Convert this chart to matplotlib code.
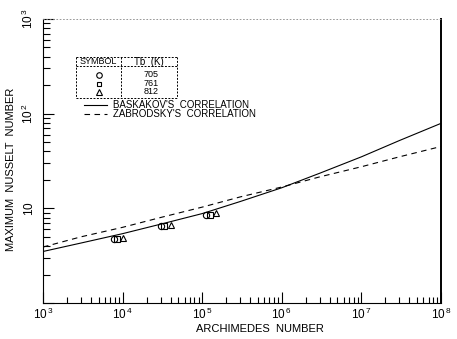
import matplotlib
matplotlib.use("Agg")
import matplotlib.pyplot as plt
from matplotlib.ticker import LogLocator, NullFormatter, FixedLocator, FixedFormatter
from matplotlib.lines import Line2D

plt.rcParams['font.family'] = ['Liberation Sans', 'DejaVu Sans']
plt.rcParams['mathtext.fontset'] = 'custom'
plt.rcParams['mathtext.rm'] = 'Liberation Sans'

# Correlation curves (Archimedes number vs maximum Nusselt number)
ar_curve = [1e3, 3e3, 1e4, 3e4, 1e5, 3e5, 1e6, 3e6, 1e7, 3e7, 1e8]
nu_baskakov = [3.5, 4.3, 5.4, 6.8, 8.8, 11.8, 16.5, 23.5, 35, 52, 79]
nu_zabrodsky = [3.9, 5.0, 6.3, 8.0, 10.3, 13.2, 16.8, 21.5, 27.5, 35, 45]

# Measured points at three bed temperatures
tb_labels = ['705', '761', '812']
ar_705 = [7.9e3, 3.0e4, 1.12e5]
nu_705 = [4.8, 6.5, 8.5]
ar_761 = [8.6e3, 3.3e4, 1.26e5]
nu_761 = [4.8, 6.5, 8.6]
ar_812 = [1.0e4, 4.0e4, 1.5e5]
nu_812 = [4.85, 6.6, 8.9]

x_ticks = [1e3, 1e4, 1e5, 1e6, 1e7, 1e8]
x_tick_labels = [r'$10^{\,3}$', r'$10^{\,4}$', r'$10^{\,5}$', r'$10^{\,6}$', r'$10^{\,7}$', r'$10^{\,8}$']
y_ticks = [1, 10, 100, 1000]
y_tick_labels = ['', r'$10$', r'$10^{\,2}$', r'$10^{\,3}$']

W, H = 457, 339
fig = plt.figure(figsize=(W / 100, H / 100), dpi=100)
L, R, T, B = 43, 441, 19, 303
ax = fig.add_axes([L / W, 1 - B / H, (R - L) / W, (B - T) / H])

ax.set_xscale('log')
ax.set_yscale('log')
ax.set_xlim(1e3, 1e8)
ax.set_ylim(1, 1000)

ax.plot(ar_curve, nu_baskakov, color='black', lw=0.8)
ax.plot(ar_curve, nu_zabrodsky, color='black', lw=0.8, dashes=(5, 4))

mk = dict(color='black', mfc='none', ls='none', mew=0.8, ms=4.5)
ax.plot(ar_705, nu_705, marker='o', **mk)
ax.plot(ar_761, nu_761, marker='s', **dict(mk, ms=4))
ax.plot(ar_812, nu_812, marker='^', **mk)

ax.xaxis.set_major_locator(FixedLocator(x_ticks))
ax.xaxis.set_major_formatter(FixedFormatter(x_tick_labels))
ax.xaxis.set_minor_locator(LogLocator(base=10, subs=range(2, 10), numticks=20))
ax.xaxis.set_minor_formatter(NullFormatter())
ax.yaxis.set_major_locator(FixedLocator(y_ticks))
ax.yaxis.set_major_formatter(FixedFormatter(y_tick_labels))
ax.yaxis.set_minor_locator(LogLocator(base=10, subs=range(2, 10), numticks=20))
ax.yaxis.set_minor_formatter(NullFormatter())

ax.tick_params(which='both', direction='in', top=False, right=False, width=0.8)
ax.tick_params(which='major', length=8, labelsize=8.5)
ax.tick_params(axis='x', which='major', pad=3)
ax.tick_params(axis='y', which='major', pad=5)
ax.tick_params(which='minor', length=5)
ax.tick_params(axis='x', which='minor', length=4)
for lab in ax.get_yticklabels():
    lab.set_rotation(90)
    lab.set_va('center')

ax.spines['top'].set_linestyle((0, (1, 3)))
ax.spines['top'].set_color('#888888')
ax.spines['top'].set_linewidth(0.6)
ax.spines['right'].set_linewidth(1.4)
for s in ('left', 'bottom'):
    ax.spines[s].set_linewidth(0.8)

ax.set_xlabel('ARCHIMEDES  NUMBER', fontsize=8)
ax.xaxis.set_label_coords(0.545, -0.075)
ax.set_ylabel('MAXIMUM  NUSSELT  NUMBER', fontsize=8)
ax.yaxis.set_label_coords(-0.068, 0.47)


def axc(px, py):
    return ((px - L) / (R - L), (B - py) / (B - T))


tr = ax.transAxes
# Symbol table
tl, td, trt, tt, th, tb = 76, 121, 177, 57, 66, 98
box_style = dict(color='black', lw=0.7, ls=(0, (2, 1.5)), transform=tr, clip_on=False)
for (x0, y0), (x1, y1) in [((tl, tt), (trt, tt)), ((tl, th), (trt, th)),
                           ((tl, tb), (trt, tb)), ((tl, tt), (tl, tb)),
                           ((td, tt), (td, tb)), ((trt, tt), (trt, tb))]:
    a, b = axc(x0, y0), axc(x1, y1)
    ax.add_line(Line2D([a[0], b[0]], [a[1], b[1]], **box_style))

ax.text(*axc((tl + td) / 2, (tt + th) / 2 + 0.5), 'SYMBOL', transform=tr,
        ha='center', va='center', fontsize=6.5)
ax.text(*axc((td + trt) / 2, (tt + th) / 2 + 0.5), 'Tb  (K)', transform=tr,
        ha='center', va='center', fontsize=7)
row_y = [75, 84, 92]
for m, lab, y in zip(['o', 's', '^'], tb_labels, row_y):
    ax.plot(*axc(99, y), marker=m, transform=tr, clip_on=False,
            **dict(mk, ms=4 if m != 's' else 3.5))
    ax.text(*axc(151, y), lab, transform=tr, ha='center',
            va='center', fontsize=6.5)

# Correlation key
for y, style, lab in [(105, '-', "BASKAKOV'S  CORRELATION"),
                      (114, (0, (5, 4)), "ZABRODSKY'S  CORRELATION")]:
    a, b = axc(84, y), axc(107, y)
    ax.add_line(Line2D([a[0], b[0]], [a[1], b[1]], color='black', lw=0.8,
                       ls=style, transform=tr))
    ax.text(*axc(113, y), lab, transform=tr, ha='left', va='center', fontsize=7)

fig.savefig('out.png', dpi=100)
